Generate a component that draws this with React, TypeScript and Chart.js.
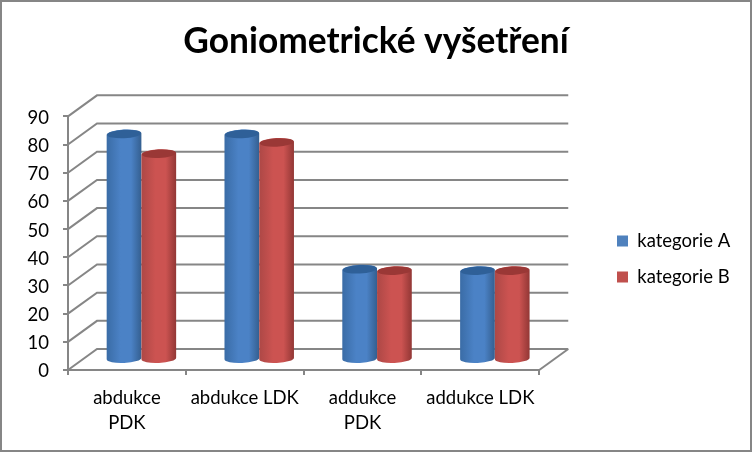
import { useEffect, useRef } from 'react'
import { Chart, registerables } from 'chart.js'

Chart.register(...registerables)

const categories = [['abdukce', 'PDK'], 'abdukce LDK', ['addukce', 'PDK'], 'addukce LDK']
const seriesNames = ['kategorie A', 'kategorie B']
const valuesA = [80, 80, 32, 31.5]
const valuesB = [73, 77, 31.5, 31.5]

const FONT = 'Lato'
const AXIS = '#868686'
const DEPTH_X = 29
const DEPTH_Y = 21

const shades = [
  { edgeL: '#3a6ca6', mid: '#4b82c6', edgeR: '#345f90', top: '#2f6098' },
  { edgeL: '#ad4846', mid: '#cc5351', edgeR: '#923735', top: '#9a3836' }
]

// Excel style 3D box behind the bars and cylinders instead of flat rects
const cylinders = {
  id: 'cylinders',
  beforeDraw(chart: any) {
    const ctx = chart.ctx
    ctx.save()
    ctx.fillStyle = '#ffffff'
    ctx.fillRect(0, 0, chart.width, chart.height)
    ctx.strokeStyle = AXIS
    ctx.lineWidth = 2
    ctx.strokeRect(1, 1, chart.width - 2, chart.height - 2)
    ctx.restore()

    // title is centred on the whole picture, not inside the right padding
    chart.titleBlock.left = 0
    chart.titleBlock.right = chart.width

    // legend sits lower than the plot centre, keep the box roomy so it stays one column
    const legend = chart.legend
    legend.left = 599.5
    legend.right = 750
    legend.top = 159
    legend.bottom = 359
  },
  beforeDatasetsDraw(chart: any) {
    const ctx = chart.ctx
    const { left, right } = chart.chartArea
    const y = chart.scales.y
    ctx.save()
    ctx.strokeStyle = AXIS
    ctx.lineWidth = 2
    y.ticks.forEach((t: any) => {
      const py = y.getPixelForValue(t.value)
      ctx.beginPath()
      ctx.moveTo(left, py)
      ctx.lineTo(left + DEPTH_X, py - DEPTH_Y)
      ctx.lineTo(right + DEPTH_X, py - DEPTH_Y)
      ctx.stroke()
    })
    const floor = y.getPixelForValue(0)
    ctx.beginPath()
    ctx.moveTo(right, floor)
    ctx.lineTo(right + DEPTH_X, floor - DEPTH_Y)
    ctx.stroke()

    chart.data.datasets.forEach((_: any, i: number) => {
      const s = shades[i]
      chart.getDatasetMeta(i).data.forEach((bar: any) => {
        const cx = bar.x + DEPTH_X / 2
        const rx = bar.width / 2
        const ry = 4.5
        const tilt = -0.05
        const topY = bar.y - DEPTH_Y / 2
        const baseY = bar.base - DEPTH_Y / 2
        const g = ctx.createLinearGradient(cx - rx, 0, cx + rx, 0)
        g.addColorStop(0, s.edgeL)
        g.addColorStop(0.4, s.mid)
        g.addColorStop(0.7, s.mid)
        g.addColorStop(1, s.edgeR)
        ctx.fillStyle = g
        ctx.beginPath()
        ctx.ellipse(cx, topY, rx, ry, tilt, Math.PI, 0)
        ctx.ellipse(cx, baseY, rx, ry, tilt, 0, Math.PI)
        ctx.closePath()
        ctx.fill()
        ctx.fillStyle = s.top
        ctx.beginPath()
        ctx.ellipse(cx, topY, rx - 0.5, ry - 0.3, tilt, 0, Math.PI * 2)
        ctx.fill()
      })
    })
    ctx.restore()
    return false
  }
}

export default function App() {
  const chartRef = useRef<HTMLCanvasElement>(null)

  useEffect(() => {
    document.body.style.margin = '0'
    if (!chartRef.current) return
    const chart = new Chart(chartRef.current, {
      type: 'bar',
      data: {
        labels: categories,
        datasets: [
          { label: seriesNames[0], data: valuesA, backgroundColor: '#4f81bd', borderWidth: 0 },
          { label: seriesNames[1], data: valuesB, backgroundColor: '#c0504d', borderWidth: 0 }
        ]
      },
      options: {
        responsive: false,
        animation: false,
        datasets: { bar: { categoryPercentage: 0.59, barPercentage: 1 } },
        layout: { padding: { top: 0, right: 72, bottom: 0, left: 0 } },
        plugins: {
          tooltip: { enabled: false },
          title: {
            display: true,
            text: 'Goniometrické vyšetření',
            color: '#000000',
            font: { family: FONT, size: 35.3, weight: 'bold' },
            padding: { top: 20, bottom: 54 }
          },
          legend: {
            position: 'right',
            fullSize: false,
            labels: {
              boxWidth: 11,
              boxHeight: 11,
              padding: 17.5,
              color: '#000000',
              font: { family: FONT, size: 18.5 }
            }
          }
        },
        scales: {
          x: {
            afterFit: (s: any) => { s.height = 82 },
            border: { color: AXIS, width: 2 },
            grid: { drawOnChartArea: false, color: AXIS, lineWidth: 2, tickLength: 5 },
            ticks: {
              color: '#000000',
              maxRotation: 0,
              autoSkip: false,
              padding: 10,
              font: { family: FONT, size: 18.5, lineHeight: 1.36 }
            }
          },
          y: {
            min: 0,
            max: 90,
            afterFit: (s: any) => { s.width = 68 },
            border: { color: AXIS, width: 2 },
            grid: { drawOnChartArea: false, color: AXIS, lineWidth: 2, tickLength: 5 },
            ticks: {
              stepSize: 10,
              color: '#000000',
              padding: 14,
              labelOffset: 1.5,
              font: { family: FONT, size: 18.5 }
            }
          }
        }
      },
      plugins: [cylinders]
    } as any)
    return () => chart.destroy()
  }, [])

  return <canvas ref={chartRef} width={752} height={452} style={{ display: 'block' }}></canvas>
}
